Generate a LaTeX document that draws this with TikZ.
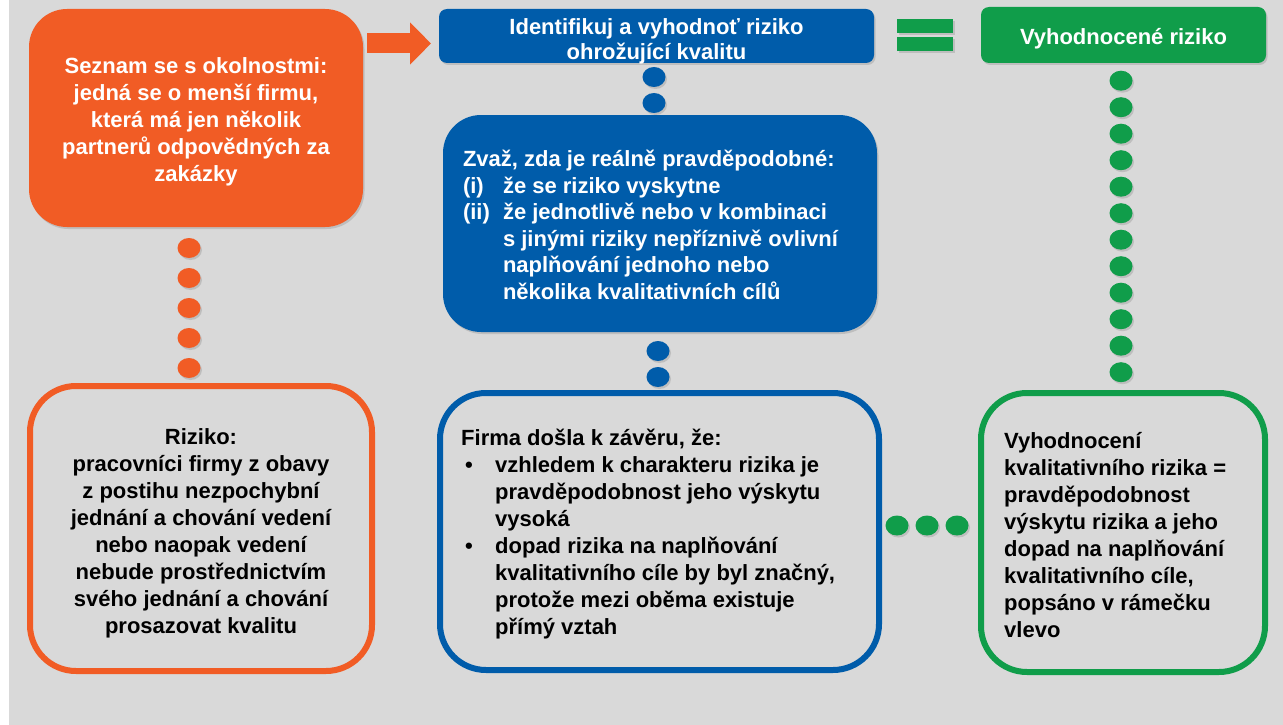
\documentclass[tikz,border=0pt]{standalone}
\usepackage{fontspec}
\setmainfont{Liberation Sans}
\usetikzlibrary{shadows,arrows.meta,shapes.geometric}
\definecolor{cOrange}{RGB}{241,92,37}
\definecolor{cBlue}{RGB}{0,92,170}
\definecolor{cGreen}{RGB}{16,157,74}
\definecolor{cBack}{RGB}{217,217,217}
\begin{document}
\begin{tikzpicture}[x=1pt,y=-1pt,
  font=\bfseries\fontsize{22}{27}\selectfont,
  softshadow/.style={drop shadow={shadow xshift=1.5pt,shadow yshift=-2pt,opacity=0.3}},
  solidbox/.style={fill=#1, rounded corners=38pt, inner sep=0pt, softshadow},
  headbox/.style={fill=#1, rounded corners=8pt, inner sep=0pt, softshadow},
  outlinebox/.style={draw=#1, line width=6pt, rounded corners=46pt, inner sep=0pt},
  dot/.style={ellipse, fill=#1, minimum width=23pt, minimum height=20pt, inner sep=0pt, softshadow},
  ctxt/.style={inner sep=0pt, align=center},
  txt/.style={inner sep=0pt, anchor=west, align=left},
  bar/.style={fill=cGreen, softshadow},
]
% page and background
\useasboundingbox (0,0) rectangle (1283,725);
\fill[white] (0,0) rectangle (1283,725);
\fill[cBack] (9,0) rectangle (1283,725);

% top row
\node[solidbox=cOrange, minimum width=334pt, minimum height=218pt] (ob) at (196,118) {};
\node[ctxt, text=white] (obt) at ([yshift=-4pt]ob.center)
  {Seznam se s okolnostmi:\\jedná se o menší firmu,\\která má jen několik\\partnerů odpovědných za\\zakázky};
\node[headbox=cBlue, minimum width=435pt, minimum height=54pt] (bh) at (656.5,36) {};
\node[ctxt, text=white, font=\bfseries\fontsize{22}{25.5}\selectfont] (bht) at ([yshift=-5.5pt]bh.center)
  {Identifikuj a vyhodnoť riziko\\ohrožující kvalitu};
\node[headbox=cGreen, minimum width=285pt, minimum height=56pt] (gh) at (1123.5,35) {};
\node[ctxt, text=white] (ght) at ([yshift=-3.5pt]gh.center) {Vyhodnocené riziko};

% block arrow between the first two boxes
\coordinate (arrS) at (367,43.5);
\coordinate (arrE) at (431,43.5);
\draw[cOrange, line width=20pt, -{Triangle[width=41pt,length=21pt]}] (arrS) -- (arrE);

% equals sign
\fill[bar] (897,19) rectangle (953,33);
\fill[bar] (897,37.5) rectangle (953,51.5);

% middle blue box
\node[solidbox=cBlue, minimum width=434pt, minimum height=217pt] (bb) at (660,223.5) {};
\node[txt, text=white, font=\bfseries\fontsize{22}{26.5}\selectfont] (bbt) at ([xshift=20pt,yshift=-4pt]bb.west)
  {\begin{tabular}{@{}p{40pt}@{}l@{}}
   \multicolumn{2}{@{}l@{}}{Zvaž, zda je reálně pravděpodobné:}\\
   (i) & že se riziko vyskytne\\
   (ii) & že jednotlivě nebo v kombinaci\\
        & s jinými riziky nepříznivě ovlivní\\
        & naplňování jednoho nebo\\
        & několika kvalitativních cílů
   \end{tabular}};

% bottom row
\node[outlinebox=cOrange, minimum width=342pt, minimum height=285pt] (oo) at (201,528.5) {};
\node[ctxt] (oot) at ([yshift=-5pt]oo.center)
  {Riziko:\\pracovníci firmy z obavy\\z postihu nezpochybní\\jednání a chování vedení\\nebo naopak vedení\\nebude prostřednictvím\\svého jednání a chování\\prosazovat kvalitu};
\node[outlinebox=cBlue, minimum width=439pt, minimum height=277pt] (bo) at (659.5,531.5) {};
\node[txt] (bot) at ([xshift=24pt,yshift=-3.5pt]bo.west)
  {\begin{tabular}{@{}p{34pt}@{}l@{}}
   \multicolumn{2}{@{}l@{}}{Firma došla k závěru, že:}\\
   \hspace*{4pt}• & vzhledem k charakteru rizika je\\
        & pravděpodobnost jeho výskytu\\
        & vysoká\\
   \hspace*{4pt}• & dopad rizika na naplňování\\
        & kvalitativního cíle by byl značný,\\
        & protože mezi oběma existuje\\
        & přímý vztah
   \end{tabular}};
\node[outlinebox=cGreen, minimum width=284pt, minimum height=279pt] (go) at (1123,532.5) {};
\node[txt] (got) at ([xshift=26pt,yshift=-2.5pt]go.west)
  {Vyhodnocení\\kvalitativního rizika =\\pravděpodobnost\\výskytu rizika a jeho\\dopad na naplňování\\kvalitativního cíle,\\popsáno v rámečku\\vlevo};

% dotted links
\foreach \i in {0,...,4}
  \node[dot=cOrange] (od\i) at (189,248+30*\i) {};
\node[dot=cBlue] (bu1) at (654,77) {};
\node[dot=cBlue] (bu2) at (654,103) {};
\node[dot=cBlue] (bl1) at (658,351) {};
\node[dot=cBlue] (bl2) at (658,377) {};
\foreach \i in {0,...,11}
  \node[dot=cGreen] (gd\i) at (1121,80.7+26.5*\i) {};
\foreach \i in {0,1,2}
  \node[dot=cGreen] (gr\i) at (897+30*\i,525.5) {};
\end{tikzpicture}
\end{document}
